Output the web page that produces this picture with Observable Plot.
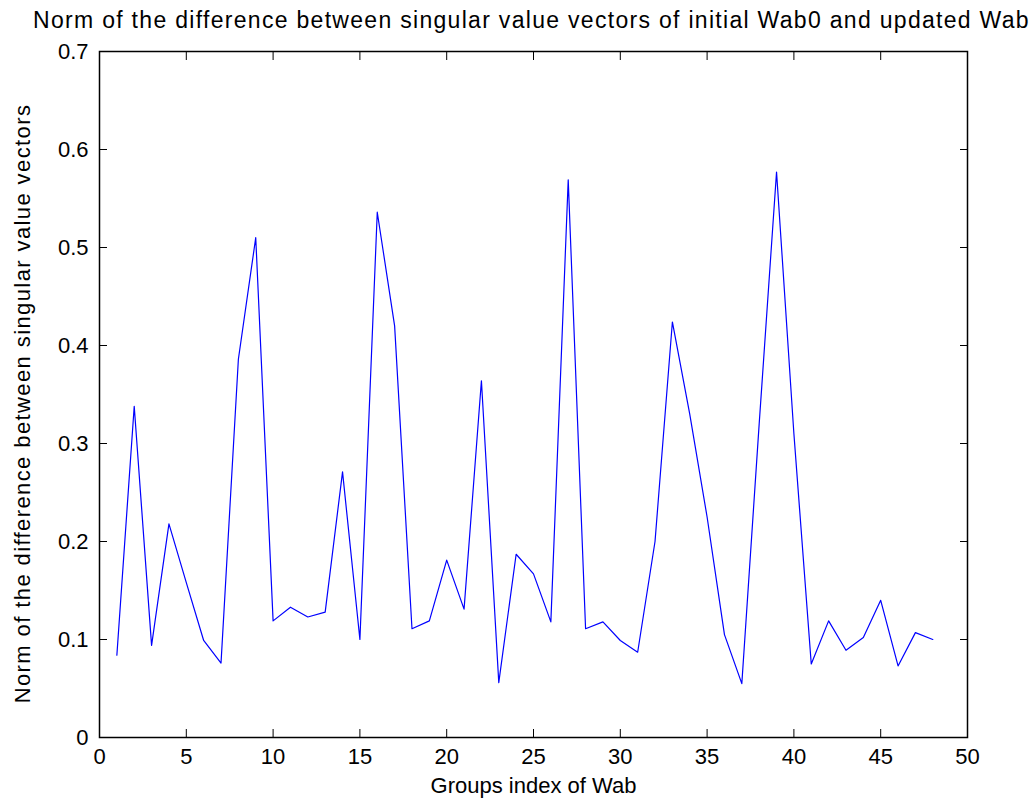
<!DOCTYPE html>
<html><head><meta charset="utf-8">
<script src="https://cdn.jsdelivr.net/npm/d3@7"></script>
<script src="https://cdn.jsdelivr.net/npm/@observablehq/plot@0.6"></script>
<style>
body{margin:0;background:#fff;font-family:"Liberation Sans",Arial,sans-serif;}
#wrap{width:1036px;height:812px;overflow:hidden;}
#title{height:40px;line-height:40px;width:1009px;padding-left:27px;text-align:center;font-size:23px;letter-spacing:1.3px;color:#000;white-space:nowrap;}
#chart svg{display:block;}
</style></head><body>
<div id="wrap"><div id="title">Norm of the difference between singular value vectors of initial Wab0 and updated Wab</div><div id="chart"></div></div>
<script>
const groups = [1,2,3,4,5,6,7,8,9,10,11,12,13,14,15,16,17,18,19,20,21,22,23,24,25,26,27,28,29,30,31,32,33,34,35,36,37,38,39,40,41,42,43,44,45,46,47,48];
const norms = [0.084,0.338,0.094,0.218,0.158,0.099,0.076,0.386,0.510,0.119,
               0.133,0.123,0.128,0.271,0.100,0.536,0.420,0.111,0.119,0.181,
               0.131,0.364,0.056,0.187,0.167,0.118,0.569,0.111,0.118,0.099,
               0.087,0.200,0.424,0.330,0.225,0.105,0.055,0.320,0.577,0.310,
               0.075,0.119,0.089,0.102,0.140,0.073,0.107,0.100];
const xTicks = [0,5,10,15,20,25,30,35,40,45,50];
const yTicks = [0,0.1,0.2,0.3,0.4,0.5,0.6,0.7];
const yTickLabels = ["0","0.1","0.2","0.3","0.4","0.5","0.6","0.7"];
const xLabel = "Groups index of Wab";
const yLabel = "Norm of the difference between singular value vectors";

const data = groups.map((g,i)=>({g, v: norms[i]}));
const blank = () => "";

const chart = Plot.plot({
  width: 1036,
  height: 772,
  marginTop: 11,
  marginBottom: 75,
  marginLeft: 99,
  marginRight: 69,
  style: {fontFamily: "'Liberation Sans', Arial, sans-serif", fontSize: "22px", color: "#000", background: "#fff"},
  x: {domain: [0,50]},
  y: {domain: [0,0.7]},
  marks: [
    Plot.axisX(xTicks, {anchor:"bottom", tickSize:-8, tickPadding:19, tickFormat: d=>String(d), label: null, fontSize: 22}),
    Plot.axisX(xTicks, {anchor:"top", tickSize:-8, tickFormat: blank, label: null}),
    Plot.axisY(yTicks, {anchor:"left", tickSize:-8, tickPadding:19, tickFormat: (d,i)=>yTickLabels[i], label: null, fontSize: 22}),
    Plot.axisY(yTicks, {anchor:"right", tickSize:-8, tickFormat: blank, label: null}),
    Plot.frame({stroke:"#000", strokeWidth: 1.5}),
    Plot.text([xLabel], {frameAnchor:"bottom", dy: 48, text: d=>d, fontSize: 22, lineAnchor:"middle", fill:"#000"}),
    Plot.text([yLabel], {frameAnchor:"left", dx: -77, dy: 9, rotate: -90, text: d=>d, fontSize: 22, textAnchor:"middle", lineAnchor:"middle", fill:"#000"}),
    Plot.line(data, {x:"g", y:"v", stroke:"#0000ff", strokeWidth:1.2})
  ]
});
d3.select(chart).selectAll("text").filter(function(){return this.textContent===yLabel;}).style("letter-spacing","1.4px");
document.getElementById("chart").appendChild(chart);
</script>
</body></html>
